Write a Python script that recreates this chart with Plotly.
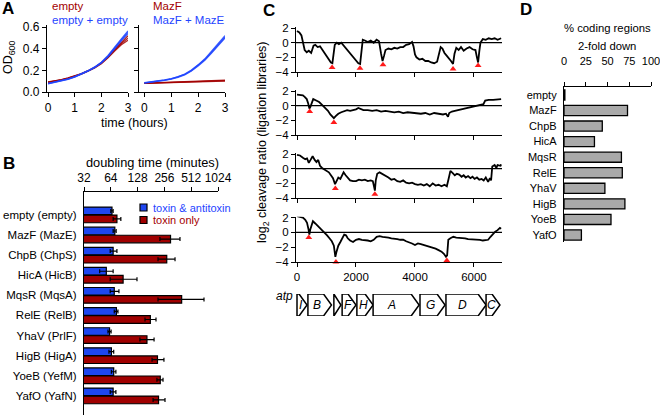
import math
import plotly.graph_objects as go

W, H = 660, 417
def px(x): return x / W
def py(y): return 1 - y / H

FONT = "Arial, Liberation Sans, Helvetica, sans-serif"
BLUE = "#1f45ff"
RED = "#a30000"
BAR_BLUE = "#1e46f0"
BAR_RED = "#a00000"
GRAY = "#a9a9a9"

# ---------------- Panel A data: OD600 growth curves ----------------
time_h = [0, 0.25, 0.5, 0.75, 1.0, 1.25, 1.5, 1.75, 2.0, 2.25, 2.5, 2.75, 3.0]
empty_reps = [
    [0.092, 0.101, 0.113, 0.128, 0.146, 0.168, 0.195, 0.226, 0.266, 0.322, 0.388, 0.448, 0.498],
    [0.089, 0.099, 0.111, 0.126, 0.144, 0.166, 0.192, 0.222, 0.262, 0.316, 0.380, 0.438, 0.478],
    [0.094, 0.103, 0.115, 0.130, 0.148, 0.170, 0.197, 0.229, 0.270, 0.327, 0.395, 0.458, 0.520],
]
empty_empty_reps = [
    [0.078, 0.090, 0.104, 0.120, 0.140, 0.165, 0.195, 0.229, 0.272, 0.332, 0.410, 0.482, 0.552],
    [0.080, 0.092, 0.106, 0.122, 0.142, 0.167, 0.197, 0.232, 0.276, 0.338, 0.418, 0.492, 0.565],
    [0.076, 0.088, 0.102, 0.118, 0.138, 0.163, 0.193, 0.226, 0.268, 0.326, 0.402, 0.474, 0.540],
]
mazf_reps = [
    [0.080, 0.082, 0.084, 0.087, 0.090, 0.093, 0.095, 0.098, 0.100, 0.102, 0.104, 0.105, 0.106],
    [0.082, 0.084, 0.086, 0.089, 0.092, 0.095, 0.098, 0.101, 0.103, 0.105, 0.107, 0.108, 0.110],
    [0.079, 0.081, 0.083, 0.085, 0.088, 0.090, 0.092, 0.094, 0.096, 0.098, 0.100, 0.101, 0.102],
]
mazf_maze_reps = [
    [0.085, 0.092, 0.100, 0.110, 0.121, 0.138, 0.162, 0.198, 0.245, 0.300, 0.368, 0.440, 0.510],
    [0.087, 0.094, 0.102, 0.112, 0.124, 0.141, 0.166, 0.203, 0.251, 0.307, 0.377, 0.450, 0.522],
    [0.083, 0.090, 0.098, 0.108, 0.119, 0.135, 0.159, 0.194, 0.240, 0.294, 0.360, 0.432, 0.500],
]

# ---------------- Panel B data: doubling times ----------------
b_labels = ["empty (empty)", "MazF (MazE)", "ChpB (ChpS)", "HicA (HicB)", "MqsR (MqsA)",
            "RelE (RelB)", "YhaV (PrlF)", "HigB (HigA)", "YoeB (YefM)", "YafO (YafN)"]
tox_anti = [66, 71, 68, 57, 70, 74, 62, 65, 69, 68]
tox_anti_minus = [2, 3, 5, 9, 7, 4, 2.5, 4, 4, 5]
tox_anti_plus = [2, 2.5, 7, 11, 9, 3, 2.5, 4, 4, 5]
tox_only = [75, 300, 272, 88, 400, 178, 163, 214, 230, 220]
tox_only_minus = [7, 72, 55, 25, 183, 23, 27, 28, 19, 29]
tox_only_plus = [8, 83, 65, 38, 313, 28, 33, 39, 17, 40]
b_ticks = [32, 64, 128, 256, 512, 1024]

# ---------------- Panel C data: cleavage ratio profiles across atp operon ----------------
mazf_profile = [(0, 1.6), (80, 1.4), (150, 1.0), (200, 0.2), (260, -1.0), (330, -1.3), (400, -1.1),
    (480, -1.4), (560, -0.4), (620, -0.3), (700, -0.6), (780, -0.5), (850, -0.9), (930, -1.3),
    (1000, -1.8), (1080, -2.3), (1150, -2.7), (1200, -2.8), (1240, -1.5), (1280, -0.3), (1350, 0.0),
    (1420, -0.2), (1500, 0.0), (1560, -0.3), (1620, -0.6), (1700, -1.0), (1800, -1.5), (1900, -2.0),
    (2000, -2.4), (2080, -2.8), (2140, -2.9), (2180, -1.5), (2230, 0.4), (2300, 0.3), (2400, 0.1),
    (2500, 0.3), (2600, 0.0), (2700, 0.4), (2780, 0.2), (2850, -1.5), (2900, -2.5), (2950, -1.8),
    (3000, -1.0), (3100, -0.8), (3200, -0.9), (3300, -0.7), (3400, -0.8), (3500, -0.6), (3600, -0.6),
    (3700, -0.3), (3800, -0.2), (3900, 0.1), (3950, -0.5), (4000, -1.6), (4050, -2.0), (4150, -2.3),
    (4250, -2.2), (4350, -2.5), (4450, -2.5), (4550, -2.7), (4650, -2.8), (4750, -2.6), (4820, -1.2),
    (4870, -0.6), (4930, -0.8), (5000, -1.4), (5080, -1.8), (5150, -2.1), (5220, -2.5), (5290, -2.9),
    (5340, -1.5), (5400, -0.7), (5480, -1.0), (5560, -0.6), (5650, -1.1), (5750, -0.8), (5850, -0.6),
    (5950, -0.9), (6050, -1.0), (6100, -2.0), (6140, -2.7), (6180, -1.2), (6220, 0.0), (6300, 0.5),
    (6400, 0.4), (6500, 0.6), (6600, 0.5), (6700, 0.6), (6800, 0.4), (6920, 0.6)]
chpb_profile = [(0, 1.5), (100, 1.5), (200, 1.4), (260, 1.2), (330, 0.9), (380, 0.3), (420, -0.4),
    (450, -0.2), (500, 0.5), (550, 0.9), (650, 0.7), (750, 0.5), (850, 0.1), (950, -0.3), (1050, -0.7),
    (1130, -1.2), (1200, -1.5), (1250, -1.7), (1320, -1.4), (1400, -1.1), (1500, -0.9), (1600, -0.8),
    (1700, -0.6), (1800, -0.7), (1900, -0.6), (2000, -0.5), (2080, -0.3), (2150, -0.4), (2250, -0.6),
    (2400, -0.6), (2550, -0.7), (2700, -0.6), (2850, -0.8), (3000, -0.7), (3150, -0.8), (3300, -0.9),
    (3450, -0.8), (3600, -1.0), (3750, -0.9), (3900, -1.0), (4050, -1.0), (4200, -1.1), (4350, -1.0),
    (4500, -1.2), (4650, -1.0), (4800, -1.1), (4950, -1.2), (5050, -1.1), (5120, -1.5), (5160, -1.0),
    (5250, -0.8), (5350, -0.7), (5450, -0.6), (5550, -0.5), (5650, -0.4), (5750, -0.3), (5850, -0.3),
    (5950, -0.1), (6050, 0.0), (6150, 0.1), (6250, 0.1), (6320, 0.2), (6380, 0.7), (6500, 0.8),
    (6650, 0.8), (6800, 0.8), (6920, 0.9)]
mqsr_profile = [(0, 1.9), (100, 1.8), (200, 1.5), (280, 1.3), (340, 1.4), (400, 0.8), (460, 1.2),
    (530, 1.7), (600, 1.2), (660, 0.9), (720, 1.2), (780, 0.4), (850, 0.1), (920, -0.1), (1000, -0.3),
    (1080, -0.5), (1150, -0.9), (1220, -1.3), (1290, -2.1), (1340, -1.6), (1400, -1.2), (1470, -1.4),
    (1530, -0.8), (1580, -0.5), (1650, -0.9), (1720, -1.3), (1800, -1.6), (1900, -1.7), (2000, -1.7),
    (2100, -1.5), (2200, -1.6), (2300, -1.5), (2400, -1.7), (2500, -1.6), (2570, -1.7), (2610, -2.4),
    (2640, -3.0), (2670, -1.6), (2720, -0.7), (2800, -0.5), (2900, -0.7), (3000, -1.0), (3100, -1.2),
    (3200, -1.5), (3300, -1.4), (3400, -1.7), (3500, -1.8), (3600, -1.6), (3700, -1.9), (3800, -2.0),
    (3900, -1.9), (4000, -2.1), (4100, -2.2), (4200, -2.1), (4300, -2.3), (4400, -2.1), (4500, -2.4),
    (4600, -2.0), (4700, -2.3), (4800, -2.2), (4900, -2.4), (5000, -2.2), (5080, -2.4), (5150, -1.2),
    (5200, -0.3), (5280, -0.6), (5350, -0.9), (5420, -0.7), (5500, -0.8), (5580, -1.1), (5650, -0.9),
    (5720, -1.2), (5800, -1.0), (5880, -1.3), (5950, -1.1), (6020, -1.4), (6100, -1.2), (6180, -1.5),
    (6260, -1.4), (6330, -1.6), (6400, -1.2), (6480, -1.8), (6540, -1.3), (6580, -1.6), (6620, 0.3),
    (6700, 0.5), (6760, 0.1), (6800, 0.5), (6900, 0.4), (6920, 0.6)]
rele_profile = [(0, 2.2), (100, 2.1), (200, 2.0), (280, 1.7), (340, 1.3), (390, 0.4), (420, -0.3),
    (450, 0.4), (500, 1.2), (540, 1.5), (620, 1.2), (700, 0.9), (780, 0.6), (860, 0.3), (940, 0.0),
    (1020, -0.4), (1100, -0.8), (1180, -1.2), (1250, -1.8), (1300, -3.3), (1340, -2.6), (1400, -1.8),
    (1470, -1.3), (1540, -0.8), (1600, -0.3), (1660, -0.4), (1720, -0.8), (1800, -1.1), (1900, -1.3),
    (2000, -1.0), (2100, -0.9), (2200, -1.0), (2300, -1.0), (2400, -1.1), (2500, -1.2), (2600, -1.0),
    (2700, -0.6), (2800, -0.5), (2900, -0.6), (3000, -0.6), (3100, -0.7), (3200, -0.8), (3300, -0.8),
    (3400, -0.9), (3500, -1.0), (3600, -1.0), (3700, -1.2), (3800, -1.3), (3900, -1.5), (4000, -1.7),
    (4100, -1.5), (4200, -1.6), (4300, -1.7), (4400, -1.8), (4500, -1.9), (4600, -2.0), (4700, -2.2),
    (4800, -2.4), (4900, -2.6), (4980, -2.9), (5050, -3.3), (5090, -3.1), (5130, -1.0), (5200, -0.8),
    (5300, -0.6), (5400, -0.7), (5500, -0.7), (5600, -0.8), (5700, -0.8), (5800, -0.9), (5900, -0.9),
    (6000, -1.0), (6100, -1.0), (6200, -1.0), (6300, -1.1), (6400, -1.1), (6480, -1.0), (6560, -0.6),
    (6640, -0.2), (6720, 0.1), (6800, 0.3), (6880, 0.6), (6920, 0.5)]

c_names = ["MazF", "ChpB", "MqsR", "RelE"]
c_profiles = [mazf_profile, chpb_profile, mqsr_profile, rele_profile]
site_x = [[1190, 2135, 2915, 5290, 6140], [430, 1250], [1300, 2640], [400, 1320, 5080]]
site_y = [[-3.4, -3.5, -3.0, -3.6, -3.1], [-0.8, -2.3], [-2.7, -3.5], [-0.7, -4.0, -3.8]]
c_xticks = [0, 2000, 4000, 6000]
c_yticks = [2, 0, -2, -4]

gene_names = ["I", "B", "", "F", "H", "A", "G", "D", "C"]
gene_start = [0, 370, 1250, 1530, 2030, 2580, 4170, 5050, 6410]
gene_end = [340, 1170, 1490, 2000, 2580, 4140, 5020, 6410, 6880]

# ---------------- Panel D data ----------------
d_labels = ["empty", "MazF", "ChpB", "HicA", "MqsR", "RelE", "YhaV", "HigB", "YoeB", "YafO"]
d_values = [1, 73, 44, 35, 66, 67, 47, 70, 54, 20]
d_ticks = [0, 25, 50, 75, 100]

fig = go.Figure()
ann = []
shapes = []

axis_common = dict(showgrid=False, zeroline=False, showline=True, linecolor="black", linewidth=1.3,
                   ticks="outside", ticklen=4, tickwidth=1.2, tickcolor="black", automargin=False,
                   ticklabeloverflow="allow",
                   tickfont=dict(family=FONT, size=12, color="black"))

# ---- Panel A ----
for reps, color, xa, ya in [(empty_reps, RED, "x", "y"), (empty_empty_reps, BLUE, "x", "y"),
                            (mazf_reps, RED, "x2", "y2"), (mazf_maze_reps, BLUE, "x2", "y2")]:
    for r in reps:
        fig.add_trace(go.Scatter(x=time_h, y=r, mode="lines", line=dict(color=color, width=1.3),
                                 opacity=0.85, xaxis=xa, yaxis=ya, showlegend=False, hoverinfo="skip"))

lay = {}
lay["xaxis"] = dict(axis_common, domain=[px(47), px(128)], range=[-0.04, 3.0], tickvals=[0, 1, 2, 3], anchor="y")
lay["yaxis"] = dict(axis_common, domain=[py(92), py(25)], range=[0, 0.62], tickvals=[0, 0.2, 0.4, 0.6],
                    tickformat=".1f", anchor="x")
lay["xaxis2"] = dict(axis_common, domain=[px(139), px(225)], range=[-0.2, 3.0], tickvals=[0, 1, 2, 3], anchor="y2")
lay["yaxis2"] = dict(axis_common, domain=[py(92), py(25)], range=[0, 0.62], tickvals=[0, 0.2, 0.4, 0.6],
                     showticklabels=False, anchor="x2")

# ---- Panel B ----
nb = len(b_labels)
fig.add_trace(go.Bar(x=tox_anti, y=[i - 0.2 for i in range(nb)], orientation="h", width=0.38,
                     marker=dict(color=BAR_BLUE, line=dict(color="black", width=1.2)),
                     error_x=dict(type="data", symmetric=False, array=tox_anti_plus, arrayminus=tox_anti_minus,
                                  color="black", thickness=1.2, width=2),
                     xaxis="x3", yaxis="y3", showlegend=False, hoverinfo="skip"))
fig.add_trace(go.Bar(x=tox_only, y=[i + 0.2 for i in range(nb)], orientation="h", width=0.38,
                     marker=dict(color=BAR_RED, line=dict(color="black", width=1.2)),
                     error_x=dict(type="data", symmetric=False, array=tox_only_plus, arrayminus=tox_only_minus,
                                  color="black", thickness=1.2, width=2),
                     xaxis="x3", yaxis="y3", showlegend=False, hoverinfo="skip"))
lay["xaxis3"] = dict(axis_common, type="log", side="top", domain=[px(84), px(218)],
                     range=[math.log10(32), math.log10(1024)], tickvals=b_ticks,
                     ticktext=[str(t) for t in b_ticks], anchor="y3")
lay["yaxis3"] = dict(axis_common, domain=[py(415), py(192)], range=[9.95, -1.14], tickvals=list(range(nb)),
                     ticktext=b_labels, ticks="", ticklabelstandoff=4,
                     tickfont=dict(family=FONT, size=11.5, color="black"), anchor="x3")

# ---- Panel C ----
c_dom = [(72, 27.3), (135, 90.3), (198, 153.3), (262, 216.8)]
for k in range(4):
    n = k + 4
    xs = [p[0] for p in c_profiles[k]]
    ys = [p[1] for p in c_profiles[k]]
    fig.add_trace(go.Scatter(x=xs, y=ys, mode="lines", line=dict(color="black", width=1.8),
                             xaxis=f"x{n}", yaxis=f"y{n}", showlegend=False, hoverinfo="skip"))
    fig.add_trace(go.Scatter(x=site_x[k], y=site_y[k], mode="markers",
                             marker=dict(symbol="triangle-up", size=6, color="#ff1a1a"), cliponaxis=False,
                             xaxis=f"x{n}", yaxis=f"y{n}", showlegend=False, hoverinfo="skip"))
    lay[f"xaxis{n}"] = dict(axis_common, domain=[px(296), px(502)], range=[-34, 6950], tickvals=c_xticks,
                            showticklabels=(k == 3), tickfont=dict(family=FONT, size=11.5, color="black"),
                            anchor=f"y{n}")
    lay[f"yaxis{n}"] = dict(axis_common, domain=[py(c_dom[k][0]), py(c_dom[k][1])], range=[-4, 2.1],
                            tickvals=c_yticks, tickfont=dict(family=FONT, size=11.5, color="black"),
                            anchor=f"x{n}")
    shapes.append(dict(type="line", xref=f"x{n} domain", yref=f"y{n}", x0=0, x1=1, y0=0, y1=0,
                       line=dict(color="black", width=1.3)))
    ann.append(dict(text=c_names[k], xref=f"x{n}", yref=f"y{n}", x=40, y=2.8, xanchor="left",
                    yanchor="middle", showarrow=False, font=dict(family=FONT, size=10.5, color="black")))

# gene map
lay["xaxis8"] = dict(domain=[px(296), px(502)], range=[-34, 6950], visible=False, automargin=False, anchor="y8")
lay["yaxis8"] = dict(domain=[py(316), py(294)], range=[0, 1], visible=False, automargin=False, anchor="x8")
HEAD = 270
for nm, s, e in zip(gene_names, gene_start, gene_end):
    h = min(HEAD, e - s)
    path = f"M {s},0 L {e - h},0 L {e},0.5 L {e - h},1 L {s},1 Z"
    shapes.append(dict(type="path", path=path, xref="x8", yref="y8", fillcolor="white",
                       line=dict(color="black", width=1.5)))
    if nm:
        ann.append(dict(text=f"<i>{nm}</i>", xref="x8", yref="y8", x=s + (e - s) * 0.4, y=0.5,
                        showarrow=False, font=dict(family=FONT, size=12, color="black")))
ann.append(dict(text="<i>atp</i>", xref="paper", yref="paper", x=px(295), y=py(305), xanchor="right",
                showarrow=False, font=dict(family=FONT, size=12, color="black")))

# ---- Panel D ----
nd = len(d_labels)
fig.add_trace(go.Bar(x=d_values, y=list(range(nd)), orientation="h", width=0.65,
                     marker=dict(color=GRAY, line=dict(color="black", width=1.3)),
                     xaxis="x9", yaxis="y9", showlegend=False, hoverinfo="skip"))
lay["xaxis9"] = dict(axis_common, side="top", domain=[px(564), px(651)], range=[0, 100], tickvals=d_ticks,
                     ticklabelstandoff=12, tickfont=dict(family=FONT, size=11, color="black"), anchor="y9")
lay["yaxis9"] = dict(axis_common, domain=[py(242), py(87)], range=[9.45, -0.51], tickvals=list(range(nd)),
                     ticktext=d_labels, ticks="", ticklabelstandoff=4,
                     tickfont=dict(family=FONT, size=11, color="black"), anchor="x9")

# ---- Text annotations ----
def txt(t, x, y, size=12, color="black", xanchor="center", bold=False, angle=0):
    ann.append(dict(text=(f"<b>{t}</b>" if bold else t), xref="paper", yref="paper", x=px(x), y=py(y),
                    xanchor=xanchor, yanchor="middle", showarrow=False, textangle=angle,
                    font=dict(family=FONT, size=size, color=color)))

txt("A", 8, 9, size=17, bold=True)
txt("B", 9, 163, size=17, bold=True)
txt("C", 269, 11, size=17, bold=True)
txt("D", 526, 10, size=17, bold=True)
txt("empty", 50, 6, size=11.5, color=RED, xanchor="left")
txt("empty + empty", 50, 20, size=11.5, color=BLUE, xanchor="left")
txt("MazF", 151, 6, size=11.5, color=RED, xanchor="left")
txt("MazF + MazE", 151, 20, size=11.5, color=BLUE, xanchor="left")
txt("time (hours)", 134, 123, size=12.5)
txt("OD<sub>600</sub>", 9, 58, size=12.5, angle=-90)
txt("doubling time (minutes)", 152, 162, size=12.8)
txt("toxin &amp; antitoxin", 151, 208, size=11, color=BLUE, xanchor="left")
txt("toxin only", 151, 220, size=11, color=RED, xanchor="left")
txt("log<sub>2</sub> cleavage ratio (ligation libraries)", 263, 142, size=12.5, angle=-90)
txt("% coding regions", 607, 28, size=11.3)
txt("2-fold down", 607, 46, size=11.3)

# legend boxes for panel B
for (y0, y1, c) in [(204, 211, BAR_BLUE), (216.5, 223.5, BAR_RED)]:
    shapes.append(dict(type="rect", xref="paper", yref="paper", x0=px(140), x1=px(147), y0=py(y1), y1=py(y0),
                       fillcolor=c, line=dict(color="black", width=1.2)))

fig.update_layout(template="none", width=W, height=H, margin=dict(l=0, r=0, t=0, b=0, pad=0),
                  paper_bgcolor="white", plot_bgcolor="white", font=dict(family=FONT, size=12, color="black"),
                  annotations=ann, shapes=shapes, barmode="overlay", **lay)
fig.write_html("out.html", config={"displayModeBar": False, "responsive": False},
               post_script="document.documentElement.style.margin='0';document.documentElement.style.overflow='hidden';"
                           "document.body.style.margin='0';document.body.style.padding='0';"
                           "document.body.style.overflow='hidden';")
